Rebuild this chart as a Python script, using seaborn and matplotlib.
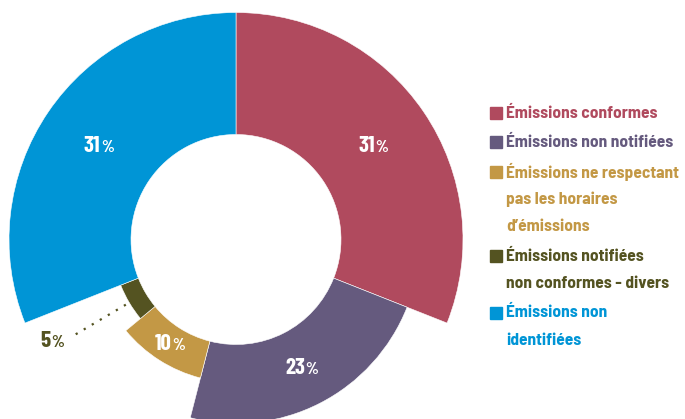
import numpy as np
import matplotlib
matplotlib.use("Agg")
import matplotlib.pyplot as plt
import seaborn as sns

# Data
categories = [
    "Émissions conformes",
    "Émissions non notifiées",
    "Émissions ne respectant pas les horaires d’émissions",
    "Émissions notifiées non conformes - divers",
    "Émissions non identifiées",
]
legend_lines = [
    ["Émissions conformes"],
    ["Émissions non notifiées"],
    ["Émissions ne respectant", "pas les horaires", "d’émissions"],
    ["Émissions notifiées", "non conformes - divers"],
    ["Émissions non", "identifiées"],
]
shares = [31, 23, 10, 5, 31]

# Styling
colors = ["#B04A5E", "#655A7E", "#C39845", "#545321", "#0095D6"]
outer_radius = [227, 184, 143, 124, 227]   # ring thickness differs per slice
inner_radius = 105

sns.set_style("white")
LABEL_FONT = ["Barlow Condensed", "DejaVu Sans"]
LEGEND_FONT = ["Barlow Semi Condensed", "Barlow Condensed", "DejaVu Sans"]
plt.rcParams["font.family"] = LABEL_FONT

W, H, DPI = 685, 419, 100
fig = plt.figure(figsize=(W / DPI, H / DPI), dpi=DPI)

cx, cy = 236, H - 239.5
R = 227
ax = fig.add_axes([(cx - R) / W, (cy - R) / H, 2 * R / W, 2 * R / H],
                  projection="polar")
ax.set_theta_zero_location("N")
ax.set_theta_direction(-1)
ax.set_ylim(0, R)
ax.axis("off")

fracs = np.array(shares, dtype=float) / sum(shares)
starts = np.concatenate([[0], np.cumsum(fracs)[:-1]]) * 2 * np.pi
widths = fracs * 2 * np.pi
heights = np.array(outer_radius) - inner_radius

ax.bar(starts, heights, width=widths, bottom=inner_radius, align="edge",
       color=colors, edgecolor="white", linewidth=0.4, clip_on=False)

fig.canvas.draw()
renderer = fig.canvas.get_renderer()


def pct_label(theta, r, value, color, num_size=16.5, pct_size=12):
    """Number with a smaller % sign, centred as a group at (theta, r)."""
    kw = dict(fontweight="bold", color=color, ha="center", va="center",
              family=LABEL_FONT)
    t_num = ax.text(theta, r, str(value), fontsize=num_size, alpha=0, **kw)
    t_pct = ax.text(theta, r, "%", fontsize=pct_size, alpha=0, **kw)
    w1 = t_num.get_window_extent(renderer).width
    w2 = t_pct.get_window_extent(renderer).width
    t_num.remove()
    t_pct.remove()
    gap = 0.5
    total = w1 + gap + w2
    ax.annotate(str(value), xy=(theta, r), xytext=(-total / 2 + w1 / 2, 0),
                textcoords="offset pixels", fontsize=num_size,
                annotation_clip=False, **kw)
    ax.annotate("%", xy=(theta, r), xytext=(-total / 2 + w1 + gap + w2 / 2, -1.5),
                textcoords="offset pixels", fontsize=pct_size,
                annotation_clip=False, **kw)


mids = starts + widths / 2
for i, v in enumerate(shares):
    if v >= 10:
        r_mid = (inner_radius + outer_radius[i]) / 2
        pct_label(mids[i], r_mid, v, "white")

# small slice: value outside with a dotted leader
i = 3
ax.plot([mids[i], mids[i]], [outer_radius[i] + 4, 191], color=colors[i],
        linestyle=(0, (1, 3.2)), linewidth=1.6, clip_on=False)
pct_label(mids[i] + 0.03, 210, shares[i], colors[i])

# Legend
lx_sq, lx_txt = 490, 506
step, gap = 27.4, 2
y = H - 113
for i, lines in enumerate(legend_lines):
    fig.patches.append(plt.Rectangle((lx_sq / W, (y - 6) / H), 12 / W, 12 / H,
                                     transform=fig.transFigure,
                                     color=colors[i], figure=fig))
    for j, line in enumerate(lines):
        fig.text(lx_txt / W, (y - j * step) / H, line, fontsize=12.5,
                 fontweight="bold", family=LEGEND_FONT, color=colors[i],
                 ha="left", va="center")
    y -= len(lines) * step + gap

fig.savefig("out.png", dpi=DPI)
